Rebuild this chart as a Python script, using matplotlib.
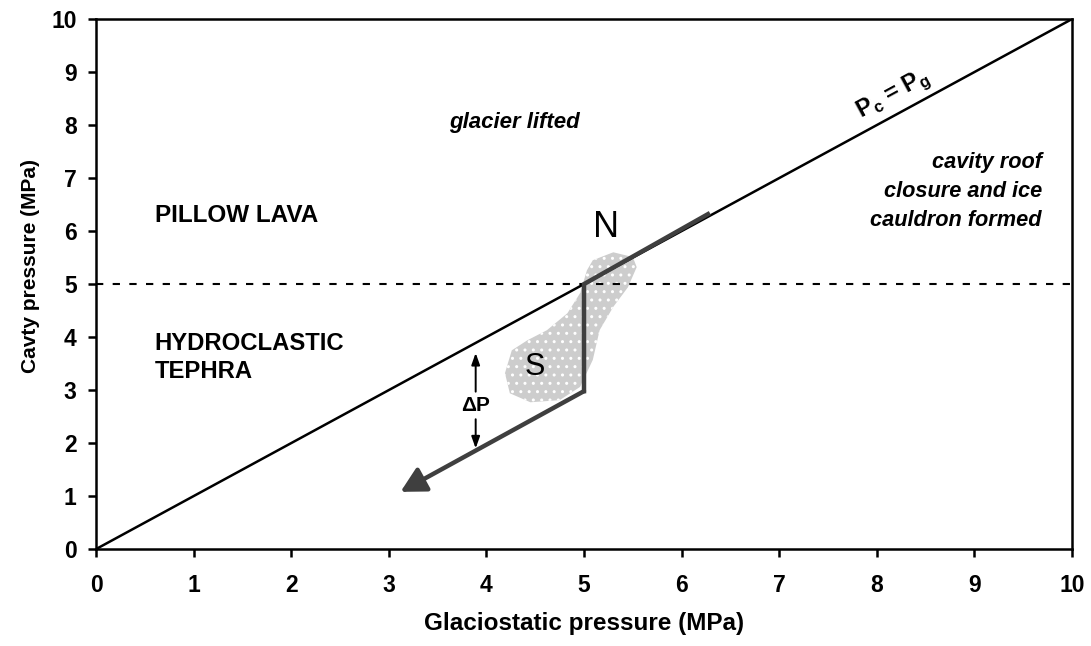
import matplotlib
matplotlib.use("Agg")
import matplotlib.pyplot as plt
from matplotlib.patches import Polygon, FancyArrowPatch

plt.rcParams["font.family"] = ["Liberation Sans", "DejaVu Sans"]
plt.rcParams["hatch.linewidth"] = 1.0

# 1:1 line Pc = Pg
equal_x = [0, 10]
equal_y = [0, 10]
# transition level between pillow lava and hydroclastic tephra
transition_p = 5
# eruption path: along 1:1 line down to N, drop to pressure deficit, then decline
path_x = [6.27, 5.0, 5.0]
path_y = [6.32, 5.0, 2.98]
arrow_end = (3.12, 1.08)
# outline of the S field
blob_x = [5.09, 5.30, 5.50, 5.54, 5.45, 5.30, 5.16, 5.09, 4.96, 4.75, 4.45, 4.24,
          4.19, 4.26, 4.42, 4.62, 4.83, 4.96, 5.03]
blob_y = [5.45, 5.60, 5.51, 5.32, 4.94, 4.57, 4.13, 3.57, 3.06, 2.81, 2.77, 2.94,
          3.32, 3.75, 3.94, 4.13, 4.45, 4.83, 5.26]
# delta P double arrow
dp_x = 3.89
dp_top, dp_bottom = 3.70, 1.90
dp_label_y = 2.70
ticks = list(range(0, 11))

fig = plt.figure(figsize=(10.91, 6.46), dpi=100)
ax = fig.add_axes([0.088, 0.150, 0.8946, 0.8205])
ax.set_xlim(0, 10); ax.set_ylim(0, 10)
ax.set_xticks(ticks); ax.set_yticks(ticks)
for s in ax.spines.values():
    s.set_linewidth(1.8)
ax.tick_params(direction="out", length=6, width=1.8, labelsize=16.5)
ax.tick_params(axis="x", pad=12)
ax.tick_params(axis="y", pad=8)
for lab in ax.get_xticklabels() + ax.get_yticklabels():
    lab.set_fontweight("bold")
ax.set_xlabel("Glaciostatic pressure (MPa)", fontsize=17.5, fontweight="bold", labelpad=11)
ax.set_ylabel("Cavty pressure (MPa)", fontsize=15, fontweight="bold")
ax.yaxis.set_label_coords(-0.057, 0.535)

ax.add_patch(Polygon(list(zip(blob_x, blob_y)), closed=True, facecolor="#cdcdcd",
                     edgecolor="white", linewidth=0, hatch="..", zorder=1))

ax.plot(equal_x, equal_y, color="black", lw=1.8, zorder=3)
ax.axhline(transition_p, color="black", lw=1.5, ls=(0, (3.5, 4.5)), zorder=2)

ax.plot(path_x, path_y, color="#3f3f3f", lw=3.2, solid_joinstyle="miter", zorder=4)
ax.add_patch(FancyArrowPatch((path_x[-1], path_y[-1]), arrow_end,
                             arrowstyle="-|>,head_length=15,head_width=8",
                             color="#3f3f3f", lw=3.2, shrinkA=0, shrinkB=0,
                             mutation_scale=1, zorder=4))

arrow_kw = dict(arrowstyle="-|>,head_length=0.7,head_width=0.25", color="black",
                lw=1.4, shrinkA=0, shrinkB=0)
ax.annotate("", xy=(dp_x, dp_top), xytext=(dp_x, 2.97), arrowprops=arrow_kw)
ax.annotate("", xy=(dp_x, dp_bottom), xytext=(dp_x, 2.45), arrowprops=arrow_kw)
ax.text(dp_x, dp_label_y, "ΔP", fontsize=15, fontweight="bold", ha="center", va="center")

ax.text(5.23, 6.06, "N", fontsize=26, ha="center", va="center")
ax.text(4.50, 3.43, "S", fontsize=22, ha="center", va="center")
ax.text(0.6, 6.30, "PILLOW LAVA", fontsize=17.5, fontweight="bold", ha="left", va="center")
ax.text(0.6, 3.62, "HYDROCLASTIC\nTEPHRA", fontsize=17.2, fontweight="bold", ha="left",
        va="center", linespacing=1.3)
ax.text(4.29, 8.04, "glacier lifted", fontsize=16, fontweight="bold", style="italic",
        ha="center", va="center")
ax.text(9.69, 6.74, "cavity roof\nclosure and ice\ncauldron formed", fontsize=15.7,
        fontweight="bold", style="italic", ha="right", va="center", linespacing=1.5)
ax.text(8.17, 8.57, r"P$_\mathregular{c}$ = P$_\mathregular{g}$", fontsize=17,
        fontweight="bold", rotation=28.5, rotation_mode="anchor", ha="center", va="center")

fig.savefig("out.png", dpi=100)
